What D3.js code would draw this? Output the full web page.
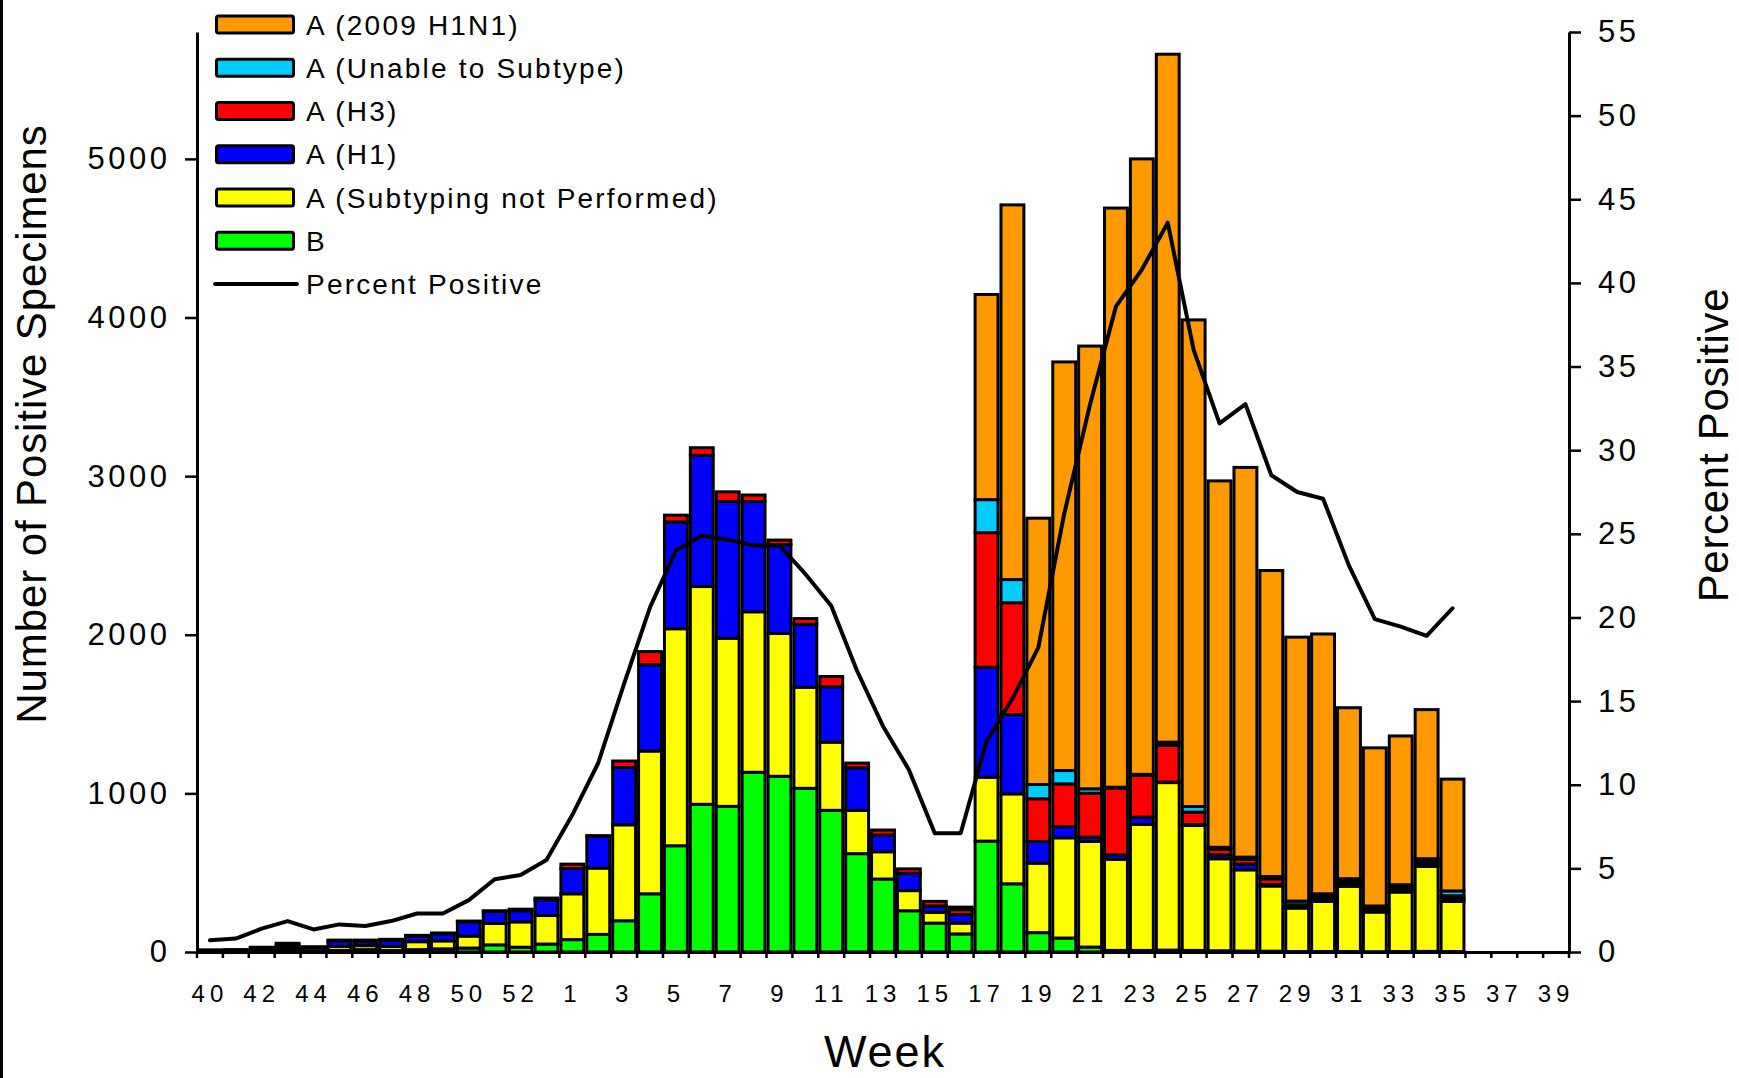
<!DOCTYPE html>
<html><head><meta charset="utf-8">
<script src="https://cdn.jsdelivr.net/npm/d3@7"></script>
<style>body{margin:0;background:#fff;} svg{display:block;}</style>
</head><body>
<svg id="chart" width="1739" height="1078"></svg>
<script>
// ---------- DATA ----------
const weeks = ["40","41","42","43","44","45","46","47","48","49","50","51","52","53",
  "1","2","3","4","5","6","7","8","9","10","11","12","13","14","15","16","17","18","19","20",
  "21","22","23","24","25","26","27","28","29","30","31","32","33","34","35","36","37","38","39"];

const seriesNames = ["B","A (Subtyping not Performed)","A (H1)","A (H3)","A (Unable to Subtype)","A (2009 H1N1)"];
const seriesColors = ["#00FF00","#FFFF00","#0000FF","#FF0000","#00CCFF","#FF9900"];

const bValues = [3,3,5,10,5,10,15,10,15,20,25,45,30,50,
  78,111,197,367,670,931,918,1133,1108,1032,893,620,460,260,182,114,699,430,122,88,
  31,10,10,12,10,8,6,5,3,3,3,2,3,4,3,0,0,0,0];
const aNotSubtyped = [4,5,10,15,20,25,25,25,50,50,75,135,160,180,
  289,418,605,900,1368,1373,1060,1012,900,637,430,273,172,127,68,68,403,567,438,632,
  666,574,794,1056,788,580,512,411,274,316,411,250,375,535,316,0,0,0,0];
const aH1 = [4,5,10,20,5,35,25,40,35,45,90,75,70,100,
  159,202,361,544,673,827,862,695,560,397,349,268,106,109,40,55,693,500,137,71,
  27,29,46,3,6,25,36,10,10,20,20,15,20,20,18,0,0,0,0];
const aH3 = [2,2,5,10,3,5,10,5,5,5,5,5,10,10,
  28,2,41,83,43,48,61,41,29,36,65,30,31,28,29,30,849,705,269,269,
  277,421,263,232,78,35,30,35,11,15,15,12,13,15,18,0,0,0,0];
const aUnable = [0,0,0,0,0,0,0,0,0,0,0,0,0,0,
  0,0,0,0,0,0,0,0,0,0,0,0,0,0,0,5,208,146,90,84,
  28,5,7,20,35,12,14,15,23,13,13,11,13,14,30,0,0,0,0];
const aH1N1 = [0,0,0,0,0,0,0,0,0,0,0,0,0,0,
  0,0,0,0,0,0,0,0,0,0,0,0,0,0,0,11,1293,2362,1679,2576,
  2791,3651,3880,4337,3068,2310,2457,1929,1664,1638,1078,997,938,940,705,0,0,0,0];
const percentPositive = [0.7,0.8,1.4,1.85,1.35,1.65,1.55,1.85,2.3,2.3,3.1,4.35,4.6,5.5,
  8.2,11.3,16.05,20.6,24.0,24.9,24.65,24.3,24.3,22.6,20.7,16.8,13.5,10.9,7.1,7.1,12.6,15.15,18.2,26.2,
  32.75,38.6,40.8,43.6,36.0,31.6,32.75,28.5,27.5,27.1,23.1,19.9,19.45,18.9,20.55,null,null,null,null];

const leftTicks = [0,1000,2000,3000,4000,5000];
const rightTicks = [0,5,10,15,20,25,30,35,40,45,50,55];
const xTickLabels = weeks.filter((w,i)=> i%2===0);

// ---------- BUILD ----------
const svg = d3.select("#chart");
const FONT = "'Liberation Sans', Arial, sans-serif";
const L = 197, R = 1569, T = 32, B = 952;

svg.append("rect").attr("x",0).attr("y",0).attr("width",3).attr("height",1078).attr("fill","#000");

const x = d3.scaleBand().domain(weeks).range([L,R]).padding(0);
const yL = d3.scaleLinear().domain([0,5800]).range([B,T]);
const yR = d3.scaleLinear().domain([0,55]).range([B,T]);

const table = weeks.map((w,i)=>({week:w, s0:bValues[i], s1:aNotSubtyped[i], s2:aH1[i], s3:aH3[i], s4:aUnable[i], s5:aH1N1[i]}));
const keys = ["s0","s1","s2","s3","s4","s5"];
const stacked = d3.stack().keys(keys)(table);

const bars = svg.append("g");
stacked.forEach((layer,k)=>{
  bars.selectAll(null)
    .data(layer.filter(d=> d[1]-d[0] > 0))
    .join("rect")
    .attr("x", d=> x(d.data.week)+1.5)
    .attr("width", x.bandwidth()-3)
    .attr("y", d=> yL(d[1]))
    .attr("height", d=> yL(d[0]) - yL(d[1]))
    .attr("fill", seriesColors[k])
    .attr("stroke","#000")
    .attr("stroke-width",3);
});

// line
const line = d3.line()
  .defined(d=> d.p !== null)
  .x(d=> x(d.w) + x.bandwidth()/2)
  .y(d=> yR(d.p));
svg.append("path")
  .datum(weeks.map((w,i)=>({w:w, p:percentPositive[i]})))
  .attr("d", line)
  .attr("fill","none").attr("stroke","#000").attr("stroke-width",4)
  .attr("stroke-linejoin","round").attr("stroke-linecap","round");

// axes
function styleAxis(g){
  g.select(".domain").attr("stroke","#000").attr("stroke-width",3);
  g.selectAll(".tick line").attr("stroke","#000").attr("stroke-width",2.5);
  g.selectAll("text").attr("fill","#000").style("font-family",FONT);
}
const gL = svg.append("g").attr("transform",`translate(${L},0)`)
  .call(d3.axisLeft(yL).tickValues(leftTicks).tickFormat(d3.format("d")).tickSize(12).tickSizeOuter(0).tickPadding(14.5));
styleAxis(gL);
gL.selectAll("text").style("font-size","31px").style("letter-spacing","3.5px");

const gR = svg.append("g").attr("transform",`translate(${R},0)`)
  .call(d3.axisRight(yR).tickValues(rightTicks).tickFormat(d3.format("d")).tickSize(12).tickSizeOuter(0).tickPadding(17));
styleAxis(gR);
gR.selectAll("text").style("font-size","31px").style("letter-spacing","3.5px");

const gX = svg.append("g").attr("transform",`translate(0,${B})`)
  .call(d3.axisBottom(x).tickValues(xTickLabels).tickSize(0).tickSizeOuter(0).tickPadding(33));
styleAxis(gX);
gX.selectAll("text").style("font-size","24px").style("letter-spacing","5px").attr("dy","0.71em");

// boundary ticks
svg.append("g").selectAll("line")
  .data(d3.range(weeks.length+1))
  .join("line")
  .attr("x1", i=> L + i*x.step()).attr("x2", i=> L + i*x.step())
  .attr("y1", B).attr("y2", B+6)
  .attr("stroke","#000").attr("stroke-width",2.5);

// titles
svg.append("text")
  .attr("transform","translate(46,424) rotate(-90)")
  .attr("text-anchor","middle")
  .style("font-family",FONT).style("font-size","42px").style("letter-spacing","0.9px")
  .text("Number of Positive Specimens");
svg.append("text")
  .attr("transform","translate(1728,445) rotate(-90)")
  .attr("text-anchor","middle")
  .style("font-family",FONT).style("font-size","42px").style("letter-spacing","0.7px")
  .text("Percent Positive");
svg.append("text")
  .attr("x",885).attr("y",1067)
  .attr("text-anchor","middle")
  .style("font-family",FONT).style("font-size","45px").style("letter-spacing","2px")
  .text("Week");

// legend
const legendItems = [5,4,3,2,1,0].map(k=>({name:seriesNames[k], color:seriesColors[k], type:"box"}));
legendItems.push({name:"Percent Positive", type:"line"});
const lg = svg.append("g");
legendItems.forEach((it,j)=>{
  const cy = 24.5 + 43.25*j;
  if(it.type==="box"){
    lg.append("rect").attr("x",216.5).attr("y",cy-8.5).attr("width",77).attr("height",17)
      .attr("rx",2).attr("fill",it.color).attr("stroke","#000").attr("stroke-width",3);
  } else {
    lg.append("line").attr("x1",215).attr("x2",297).attr("y1",cy).attr("y2",cy)
      .attr("stroke","#000").attr("stroke-width",4).attr("stroke-linecap","round");
  }
  lg.append("text").attr("x",306).attr("y",cy+10)
    .style("font-family",FONT).style("font-size","28px").style("letter-spacing","2.2px")
    .attr("fill","#000").text(it.name);
});
</script>
</body></html>
